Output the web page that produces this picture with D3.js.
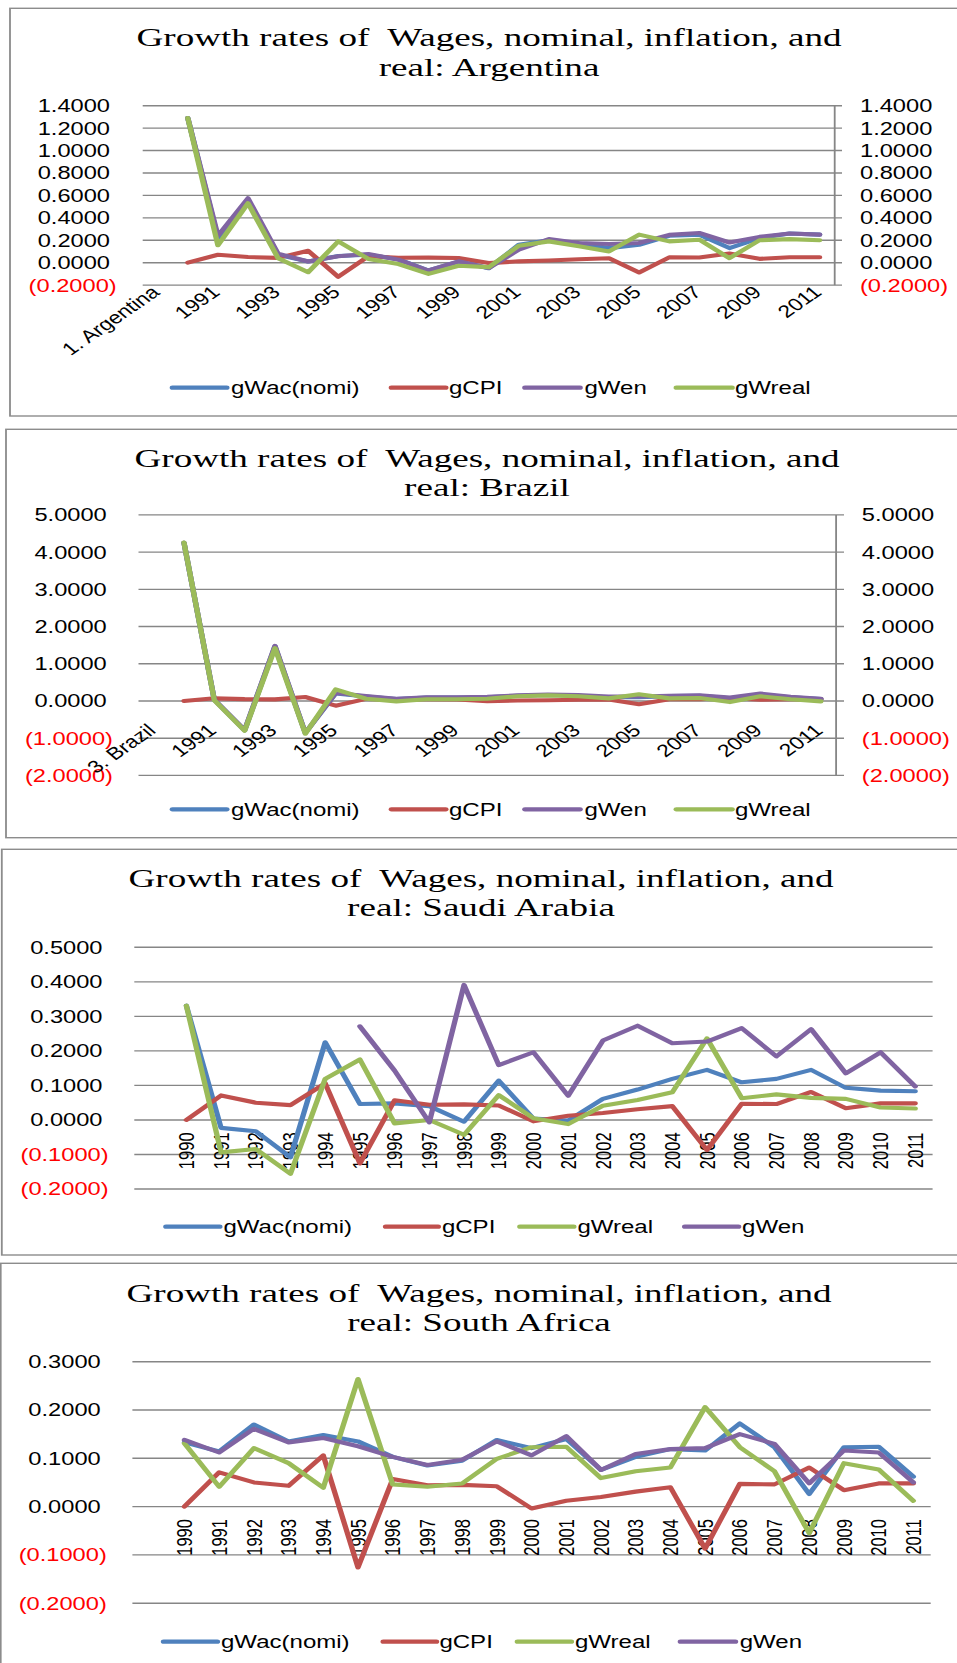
<!DOCTYPE html>
<html><head><meta charset="utf-8">
<script src="https://cdn.jsdelivr.net/npm/d3@7/dist/d3.min.js"></script>
<style>
html,body{margin:0;padding:0;background:#fff;}
svg{display:block;}
</style></head><body>
<svg id="c" width="957" height="1663"></svg>
<script>
// ---------------- DATA ----------------
const years = ["1990","1991","1992","1993","1994","1995","1996","1997","1998","1999","2000",
               "2001","2002","2003","2004","2005","2006","2007","2008","2009","2010","2011"];

// inflation (same series in all four panels)
const gCPI = [0.000, 0.071, 0.050, 0.043, 0.106, -0.126, 0.057, 0.044, 0.045, 0.042, -0.004,
              0.012, 0.020, 0.031, 0.040, -0.087, 0.047, 0.046, 0.081, 0.034, 0.048, 0.048];

// Argentina
const argWac  = [1.29, 0.22, 0.56, 0.07, 0.01, 0.06, 0.07, 0.03, -0.07, 0.01, -0.05,
                 0.16, 0.20, 0.17, 0.13, 0.16, 0.24, 0.25, 0.13, 0.22, 0.26, 0.25];
const argWen  = [1.29, 0.24, 0.575, 0.08, 0.01, 0.057, 0.078, 0.027, -0.07, 0.012, -0.048,
                 0.116, 0.21, 0.176, 0.167, 0.176, 0.248, 0.265, 0.18, 0.23, 0.26, 0.25];
const argReal = [1.29, 0.155, 0.53, 0.04, -0.085, 0.19, 0.033, -0.012, -0.10, -0.027, -0.04,
                 0.15, 0.19, 0.146, 0.10, 0.25, 0.19, 0.205, 0.04, 0.20, 0.21, 0.20];

// Brazil
const braWac  = [4.25, 0.03, -0.79, 1.47, -0.86, 0.20, 0.12, 0.05, 0.09, 0.09, 0.10,
                 0.14, 0.16, 0.14, 0.10, 0.10, 0.13, 0.14, 0.07, 0.17, 0.10, 0.05];
const braWen  = [4.25, 0.03, -0.78, 1.48, -0.86, 0.215, 0.135, 0.06, 0.10, 0.10, 0.11,
                 0.15, 0.17, 0.16, 0.12, 0.12, 0.14, 0.15, 0.09, 0.20, 0.11, 0.06];
const braReal = [4.255, 0.02, -0.80, 1.42, -0.88, 0.31, 0.06, -0.01, 0.045, 0.045, 0.06,
                 0.125, 0.15, 0.125, 0.07, 0.18, 0.07, 0.08, -0.03, 0.125, 0.045, -0.01];

// Saudi Arabia
const sauWac  = [0.331, -0.023, -0.033, -0.108, 0.225, 0.046, 0.048, 0.040, -0.005, 0.114, 0.004,
                 -0.002, 0.061, 0.088, 0.119, 0.145, 0.109, 0.119, 0.145, 0.093, 0.085, 0.083];
const sauReal = [0.331, -0.094, -0.084, -0.156, 0.119, 0.175, -0.010, 0.000, -0.043, 0.072, 0.005,
                 -0.012, 0.041, 0.058, 0.080, 0.236, 0.063, 0.074, 0.064, 0.061, 0.036, 0.033];
const sauWen  = [null, null, null, null, null, 0.271, 0.143, -0.007, 0.391, 0.159, 0.196,
                 0.070, 0.230, 0.273, 0.222, 0.227, 0.266, 0.184, 0.263, 0.135, 0.196, 0.097];

// South Africa
const zafWac  = [0.133, 0.114, 0.170, 0.135, 0.148, 0.135, 0.103, 0.085, 0.095, 0.138, 0.121,
                 0.140, 0.076, 0.103, 0.119, 0.116, 0.172, 0.123, 0.026, 0.123, 0.124, 0.062];
const zafWen  = [0.138, 0.112, 0.161, 0.133, 0.142, 0.125, 0.103, 0.086, 0.097, 0.135, 0.106,
                 0.146, 0.076, 0.109, 0.119, 0.121, 0.150, 0.130, 0.048, 0.116, 0.112, 0.050];
const zafReal = [0.131, 0.041, 0.121, 0.090, 0.039, 0.264, 0.046, 0.041, 0.048, 0.099, 0.123,
                 0.124, 0.059, 0.073, 0.081, 0.206, 0.123, 0.073, -0.055, 0.090, 0.077, 0.012];

// axis ticks
const argTicks = [-0.2, 0, 0.2, 0.4, 0.6, 0.8, 1.0, 1.2, 1.4];
const braTicks = [-2, -1, 0, 1, 2, 3, 4, 5];
const sauTicks = [-0.2, -0.1, 0, 0.1, 0.2, 0.3, 0.4, 0.5];
const zafTicks = [-0.2, -0.1, 0, 0.1, 0.2, 0.3];

// categories (first slot holds the panel label)
const argCats = ["1. Argentina", ...years];
const braCats = ["3. Brazil", ...years];
const sauCats = ["", ...years];
const zafCats = ["", ...years];

const titleLine1 = "Growth rates of  Wages, nominal, inflation, and";
const titles = ["real: Argentina", "real: Brazil", "real: Saudi Arabia", "real: South Africa"];

const seriesNames = {wac: "gWac(nomi)", cpi: "gCPI", wen: "gWen", real: "gWreal"};

// ---------------- LAYOUT / STYLE ----------------
const COLORS = {wac: "#4F81BD", cpi: "#C0504D", real: "#9BBB59", wen: "#8064A2"};
const SX = 1.3;                 // horizontal stretch of the whole picture
const nx = v => v / SX;
const SANS = '"Liberation Sans", Arial, sans-serif';
const SERIF = '"Liberation Serif", "Times New Roman", serif';

const charts = [
  { cats: argCats, ticks: argTicks, title: titles[0],
    series: [["wac", argWac], ["cpi", gCPI], ["wen", argWen], ["real", argReal]],
    box: [10, 8.3, 980, 416], titleX: 489, titleY: [46, 75.5],
    plot: {l: 142.7, r: 834.7, t: 105.7, b: 285.1},
    right: {tickEnd: 842, lab: 860}, labPos: 110, labNeg: 116.7, xlab: "rot45",
    legY: 387.7,
    leg: [["wac",172.5,226.7,231],["cpi",391.5,445.7,449],["wen",525,580,584.5],["real",676.4,732,735]] },
  { cats: braCats, ticks: braTicks, title: titles[1],
    series: [["wac", braWac], ["cpi", gCPI], ["wen", braWen], ["real", braReal]],
    box: [6, 429.3, 980, 837.7], titleX: 487, titleY: [466.5, 496],
    plot: {l: 138.5, r: 836.1, t: 514.9, b: 775.4},
    right: {tickEnd: 844, lab: 861.8}, labPos: 106.8, labNeg: 113, xlab: "rot45",
    legY: 809.3,
    leg: [["wac",172.5,226.7,231],["cpi",391.5,445.7,449],["wen",525,580,584.5],["real",676.4,732,735]] },
  { cats: sauCats, ticks: sauTicks, title: titles[2],
    series: [["wac", sauWac], ["cpi", gCPI], ["real", sauReal], ["wen", sauWen]],
    box: [1.8, 849.3, 980, 1255], titleX: 481, titleY: [886.7, 916],
    plot: {l: 134.3, r: 932.6, t: 947.3, b: 1189},
    right: null, labPos: 102.5, labNeg: 108.6, xlab: "rot90",
    legY: 1226.7,
    leg: [["wac",166,219.7,223.4],["cpi",385.7,438.2,441.9],["real",520,573.7,577.4],["wen",684.8,738.5,742.1]] },
  { cats: zafCats, ticks: zafTicks, title: titles[3],
    series: [["wac", zafWac], ["cpi", gCPI], ["real", zafReal], ["wen", zafWen]],
    box: [0.7, 1263.3, 980, 1720], titleX: 479, titleY: [1301.7, 1331],
    plot: {l: 132.4, r: 930.7, t: 1361.7, b: 1603.2},
    right: null, labPos: 100.7, labNeg: 106.8, xlab: "rot90",
    legY: 1641.7,
    leg: [["wac",163.6,217.3,221],["cpi",383.3,436.4,439.4],["real",517.5,571.3,575],["wen",680.5,735.4,739.7]] }
];

const fmt = v => v < 0 ? "(" + Math.abs(v).toFixed(4) + ")" : v.toFixed(4);

// ---------------- DRAW ----------------
const svg = d3.select("#c");
svg.append("rect").attr("width", 957).attr("height", 1663).attr("fill", "#fff");
const root = svg.append("g").attr("transform", `scale(${SX},1)`);

charts.forEach(ch => {
  const g = root.append("g");
  const [bx0, by0, bx1, by1] = ch.box;
  g.append("rect")
    .attr("x", nx(bx0)).attr("y", by0)
    .attr("width", nx(bx1 - bx0)).attr("height", by1 - by0)
    .attr("fill", "#fff").attr("stroke", "#8c8c8c").attr("stroke-width", 1.4);

  // title
  [titleLine1, ch.title].forEach((t, i) => {
    g.append("text")
      .attr("transform", `translate(${nx(ch.titleX)},${ch.titleY[i]}) scale(1.16,1)`)
      .attr("text-anchor", "middle")
      .style("font-family", SERIF).style("font-size", "24.6px")
      .style("white-space", "pre").attr("fill", "#000")
      .text(t);
  });

  const x = d3.scaleBand().domain(ch.cats).range([nx(ch.plot.l), nx(ch.plot.r)]);
  const y = d3.scaleLinear()
    .domain([d3.min(ch.ticks), d3.max(ch.ticks)])
    .range([ch.plot.b, ch.plot.t]);
  const cx = c => x(c) + x.bandwidth() / 2;

  // gridlines
  g.append("g").selectAll("line").data(ch.ticks).join("line")
    .attr("x1", x.range()[0]).attr("x2", ch.right ? nx(ch.right.tickEnd) : x.range()[1])
    .attr("y1", d => y(d)).attr("y2", d => y(d))
    .attr("stroke", "#868686").attr("stroke-width", 1.4);

  // right (secondary) axis
  if (ch.right) {
    g.append("line")
      .attr("x1", x.range()[1]).attr("x2", x.range()[1])
      .attr("y1", y(d3.max(ch.ticks))).attr("y2", y(d3.min(ch.ticks)))
      .attr("stroke", "#868686").attr("stroke-width", 1.4);
    g.append("g").selectAll("text").data(ch.ticks).join("text")
      .attr("x", nx(ch.right.lab)).attr("y", d => y(d) + 6.5)
      .attr("text-anchor", "start")
      .style("font-family", SANS).style("font-size", "18.2px")
      .attr("fill", d => d < 0 ? "#FF0000" : "#000")
      .text(fmt);
  }

  // left labels
  g.append("g").selectAll("text").data(ch.ticks).join("text")
    .attr("x", d => nx(d < 0 ? ch.labNeg : ch.labPos)).attr("y", d => y(d) + 6.5)
    .attr("text-anchor", "end")
    .style("font-family", SANS).style("font-size", "18.2px")
    .attr("fill", d => d < 0 ? "#FF0000" : "#000")
    .text(fmt);

  // category labels
  const y0 = y(0);
  if (ch.xlab === "rot45") {
    g.append("g").selectAll("text").data(ch.cats.filter((c, i) => i % 2 === 0)).join("text")
      .attr("transform", c => `translate(${cx(c) + 2.5},${y0 + 31}) rotate(-42)`)
      .attr("text-anchor", "end")
      .style("font-family", SANS).style("font-size", "17.5px").attr("fill", "#000")
      .text(c => c);
  } else {
    g.append("g").selectAll("text").data(ch.cats.filter(c => c !== "")).join("text")
      .attr("transform", c => `translate(${cx(c) + 5.9},${y0 + 12.5}) rotate(-90)`)
      .attr("text-anchor", "end")
      .style("font-family", SANS).style("font-size", "16.5px").attr("fill", "#000")
      .text(c => c);
  }

  // series
  const line = d3.line()
    .defined(d => d != null)
    .x((d, i) => cx(years[i]))
    .y(d => y(d));
  ch.series.forEach(([k, vals]) => {
    g.append("path").datum(vals)
      .attr("d", line)
      .attr("fill", "none").attr("stroke", COLORS[k])
      .attr("stroke-width", 4.1)
      .attr("stroke-linejoin", "round").attr("stroke-linecap", "round");
  });

  // legend
  ch.leg.forEach(([k, l0, l1, tx]) => {
    g.append("line")
      .attr("x1", nx(l0)).attr("x2", nx(l1))
      .attr("y1", ch.legY).attr("y2", ch.legY)
      .attr("stroke", COLORS[k]).attr("stroke-width", 4.3).attr("stroke-linecap", "round");
    g.append("text")
      .attr("x", nx(tx)).attr("y", ch.legY + 6.5)
      .style("font-family", SANS).style("font-size", "18.5px").attr("fill", "#000")
      .text(seriesNames[k]);
  });
});
</script>
</body></html>
